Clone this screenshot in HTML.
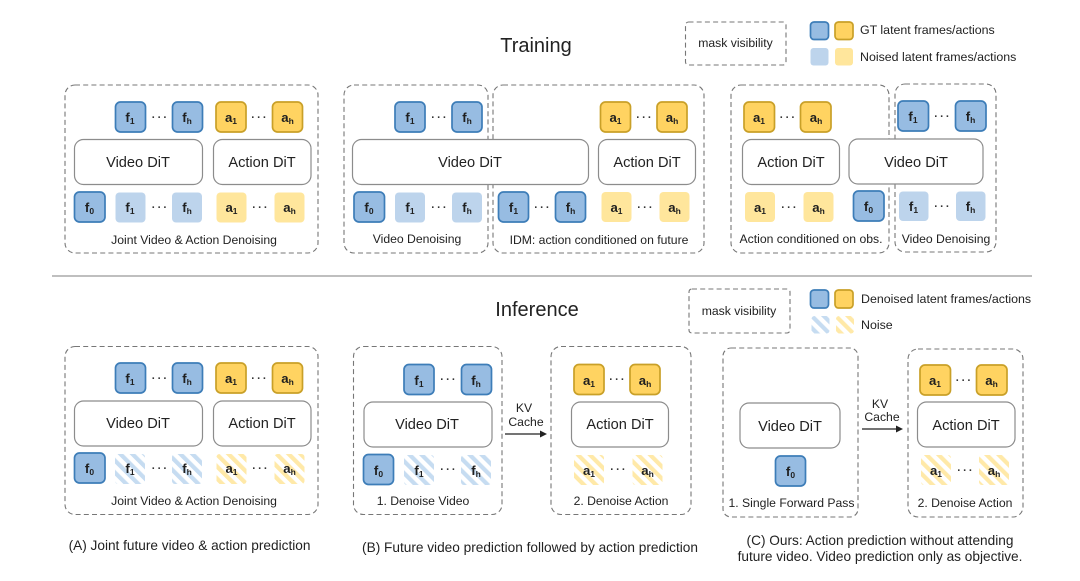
<!DOCTYPE html>
<html lang="en">
<head>
<meta charset="utf-8">
<title>Training and Inference Diagram</title>
<style>
html,body{margin:0;padding:0;background:#fff;width:1080px;height:581px;overflow:hidden}
svg{display:block;filter:blur(.3px)}
text{font-family:"Liberation Sans",sans-serif;fill:#222}
.d{fill:#fff;fill-opacity:0;stroke:#777;stroke-width:1.1;stroke-dasharray:5 3.2}
.dit{fill:#fff;stroke:#8c8c8c;stroke-width:1.2}
.gb{fill:#97bce2;stroke:#3d7db8;stroke-width:1.7}
.gy{fill:#ffd361;stroke:#c9a028;stroke-width:1.7}
.nb{fill:#bdd4ec}
.ny{fill:#ffe69c}
.hb{fill:url(#hb)}
.hy{fill:url(#hy)}
.t{font-size:13.2px;font-weight:700;text-anchor:middle;fill:#1f1f1f}
.s{font-size:8.5px}
.dt{font-size:14.6px;text-anchor:middle}
.l{font-size:12.2px;text-anchor:middle}
.lg{font-size:12.4px}
.c{font-size:13.65px;text-anchor:middle}
.h{font-size:20px;text-anchor:middle}
.o{font-size:11px;font-weight:700;text-anchor:middle;letter-spacing:2.2px;fill:#333;transform:translate(1px,1px)}
</style>
</head>
<body>
<svg width="1080" height="581" viewBox="0 0 1080 581" xmlns="http://www.w3.org/2000/svg">
<defs>
<pattern id="hb" patternUnits="userSpaceOnUse" width="8.500" height="8.500" patternTransform="rotate(-45)"><rect width="8.500" height="8.500" fill="#fff"/><rect width="4.200" height="8.500" fill="#c6dcf1"/></pattern>
<pattern id="hy" patternUnits="userSpaceOnUse" width="8.500" height="8.500" patternTransform="rotate(-45)"><rect width="8.500" height="8.500" fill="#fff"/><rect width="4.200" height="8.500" fill="#ffe9a8"/></pattern>
</defs>

<text class="h" x="536" y="52">Training</text>
<text class="h" x="537" y="316">Inference</text>
<line x1="52" y1="276" x2="1032" y2="276" stroke="#999" stroke-width="1.2"/>

<!-- Legend top -->
<rect class="d" x="685.500" y="22" width="100.500" height="43" rx="3"/>
<text class="l" x="735.500" y="47">mask visibility</text>
<rect class="gb" x="810.500" y="22" width="18" height="17.500" rx="3.500"/>
<rect class="gy" x="835" y="22" width="18" height="17.500" rx="3.500"/>
<rect class="nb" x="810.500" y="48" width="18" height="17.500" rx="3"/>
<rect class="ny" x="835" y="48" width="18" height="17.500" rx="3"/>
<text class="lg" x="860" y="34">GT latent frames/actions</text>
<text class="lg" x="860" y="61">Noised latent frames/actions</text>

<!-- Legend bottom -->
<rect class="d" x="689" y="289" width="101" height="44" rx="3"/>
<text class="l" x="739" y="315">mask visibility</text>
<rect class="gb" x="810.500" y="290" width="18" height="18" rx="3.500"/>
<rect class="gy" x="835" y="290" width="18" height="18" rx="3.500"/>
<rect class="hb" x="811.500" y="316" width="18" height="17.500" rx="3"/>
<rect class="hy" x="836" y="316" width="18" height="17.500" rx="3"/>
<text class="lg" x="861" y="303">Denoised latent frames/actions</text>
<text class="lg" x="861" y="329">Noise</text>

<!-- Training A -->
<rect class="d" x="65" y="85" width="253" height="168" rx="10"/>
<rect class="gb" x="115.500" y="102" width="30" height="30" rx="5"/><text class="t" x="130" y="122">f<tspan class="s" dy="2">1</tspan></text>
<text class="o" x="159.500" y="120">···</text>
<rect class="gb" x="172.500" y="102" width="30" height="30" rx="5"/><text class="t" x="187" y="122">f<tspan class="s" dy="2">h</tspan></text>
<rect class="gy" x="216" y="102" width="30" height="30" rx="5"/><text class="t" x="231" y="122">a<tspan class="s" dy="2">1</tspan></text>
<text class="o" x="259" y="120">···</text>
<rect class="gy" x="272.500" y="102" width="30" height="30" rx="5"/><text class="t" x="287.500" y="122">a<tspan class="s" dy="2">h</tspan></text>
<rect class="dit" x="74.500" y="139.500" width="128" height="45" rx="9"/><text class="dt" x="138" y="167">Video DiT</text>
<rect class="dit" x="213.500" y="139.500" width="97.500" height="45" rx="9"/><text class="dt" x="262" y="167">Action DiT</text>
<rect class="gb" x="74.500" y="192" width="30.500" height="30" rx="5"/><text class="t" x="89.500" y="212">f<tspan class="s" dy="2">0</tspan></text>
<rect class="nb" x="115.500" y="192.500" width="30" height="30" rx="4"/><text class="t" x="130" y="212">f<tspan class="s" dy="2">1</tspan></text>
<text class="o" x="159.500" y="210">···</text>
<rect class="nb" x="172" y="192.500" width="30" height="30" rx="4"/><text class="t" x="187" y="212">f<tspan class="s" dy="2">h</tspan></text>
<rect class="ny" x="216.500" y="192.500" width="30" height="30" rx="4"/><text class="t" x="231.500" y="212">a<tspan class="s" dy="2">1</tspan></text>
<text class="o" x="260" y="210">···</text>
<rect class="ny" x="274.500" y="192.500" width="30" height="30" rx="4"/><text class="t" x="289.500" y="212">a<tspan class="s" dy="2">h</tspan></text>
<text class="l" x="194" y="244">Joint Video &amp; Action Denoising</text>

<!-- Training B -->
<rect class="d" x="344" y="85" width="144" height="168" rx="10"/>
<rect class="d" x="493" y="85" width="211" height="168" rx="10"/>
<rect class="gb" x="395" y="102" width="30" height="30" rx="5"/><text class="t" x="410" y="122">f<tspan class="s" dy="2">1</tspan></text>
<text class="o" x="439" y="120">···</text>
<rect class="gb" x="452" y="102" width="30" height="30" rx="5"/><text class="t" x="467" y="122">f<tspan class="s" dy="2">h</tspan></text>
<rect class="gy" x="600.500" y="102" width="30" height="30" rx="5"/><text class="t" x="615.500" y="122">a<tspan class="s" dy="2">1</tspan></text>
<text class="o" x="644" y="120">···</text>
<rect class="gy" x="657" y="102" width="30" height="30" rx="5"/><text class="t" x="672" y="122">a<tspan class="s" dy="2">h</tspan></text>
<rect class="dit" x="352.500" y="139.500" width="236" height="45" rx="9"/><text class="dt" x="470" y="167">Video DiT</text>
<rect class="dit" x="598.500" y="139.500" width="97" height="45" rx="9"/><text class="dt" x="647" y="167">Action DiT</text>
<rect class="gb" x="354" y="192" width="30.500" height="30" rx="5"/><text class="t" x="369" y="212">f<tspan class="s" dy="2">0</tspan></text>
<rect class="nb" x="395" y="192.500" width="30" height="30" rx="4"/><text class="t" x="410" y="212">f<tspan class="s" dy="2">1</tspan></text>
<text class="o" x="439" y="210">···</text>
<rect class="nb" x="452" y="192.500" width="30" height="30" rx="4"/><text class="t" x="467" y="212">f<tspan class="s" dy="2">h</tspan></text>
<rect class="gb" x="498.500" y="192" width="30" height="30" rx="5"/><text class="t" x="513.500" y="212">f<tspan class="s" dy="2">1</tspan></text>
<text class="o" x="542" y="210">···</text>
<rect class="gb" x="555.500" y="192" width="30" height="30" rx="5"/><text class="t" x="570.500" y="212">f<tspan class="s" dy="2">h</tspan></text>
<rect class="ny" x="601.500" y="192" width="30" height="30" rx="4"/><text class="t" x="616.500" y="212">a<tspan class="s" dy="2">1</tspan></text>
<text class="o" x="645" y="210">···</text>
<rect class="ny" x="659.500" y="192" width="30" height="30" rx="4"/><text class="t" x="674.500" y="212">a<tspan class="s" dy="2">h</tspan></text>
<text class="l" x="417" y="243">Video Denoising</text>
<text class="l" x="599" y="244">IDM: action conditioned on future</text>

<!-- Training C -->
<rect class="d" x="731" y="85" width="158" height="168" rx="10"/>
<rect class="d" x="895" y="84" width="101" height="168" rx="10"/>
<rect class="gy" x="744" y="102" width="30.500" height="30" rx="5"/><text class="t" x="759" y="122">a<tspan class="s" dy="2">1</tspan></text>
<text class="o" x="787.500" y="120">···</text>
<rect class="gy" x="800.500" y="102" width="30.500" height="30" rx="5"/><text class="t" x="816" y="122">a<tspan class="s" dy="2">h</tspan></text>
<rect class="gb" x="898" y="101" width="30.500" height="30" rx="5"/><text class="t" x="913" y="121">f<tspan class="s" dy="2">1</tspan></text>
<text class="o" x="942" y="119">···</text>
<rect class="gb" x="955.500" y="101" width="30.500" height="30" rx="5"/><text class="t" x="970.500" y="121">f<tspan class="s" dy="2">h</tspan></text>
<rect class="dit" x="742.500" y="139.500" width="97" height="45" rx="9"/><text class="dt" x="791" y="167">Action DiT</text>
<rect class="dit" x="849" y="139" width="134" height="45" rx="9"/><text class="dt" x="916" y="167">Video DiT</text>
<rect class="ny" x="745" y="192" width="30" height="30" rx="4"/><text class="t" x="760" y="212">a<tspan class="s" dy="2">1</tspan></text>
<text class="o" x="789" y="210">···</text>
<rect class="ny" x="803.500" y="192" width="30" height="30" rx="4"/><text class="t" x="818.500" y="212">a<tspan class="s" dy="2">h</tspan></text>
<rect class="gb" x="853.500" y="191" width="30.500" height="30" rx="5"/><text class="t" x="868.500" y="211">f<tspan class="s" dy="2">0</tspan></text>
<rect class="nb" x="899" y="191.500" width="29.500" height="29.500" rx="4"/><text class="t" x="913.500" y="211">f<tspan class="s" dy="2">1</tspan></text>
<text class="o" x="942" y="209">···</text>
<rect class="nb" x="956" y="191.500" width="29.500" height="29.500" rx="4"/><text class="t" x="970.500" y="211">f<tspan class="s" dy="2">h</tspan></text>
<text class="l" x="811" y="243">Action conditioned on obs.</text>
<text class="l" x="946" y="243">Video Denoising</text>

<!-- Inference A -->
<rect class="d" x="65" y="346.500" width="253" height="168" rx="10"/>
<rect class="gb" x="115.500" y="363" width="30" height="30" rx="5"/><text class="t" x="130" y="383">f<tspan class="s" dy="2">1</tspan></text>
<text class="o" x="159.500" y="381">···</text>
<rect class="gb" x="172.500" y="363" width="30" height="30" rx="5"/><text class="t" x="187" y="383">f<tspan class="s" dy="2">h</tspan></text>
<rect class="gy" x="216" y="363" width="30" height="30" rx="5"/><text class="t" x="231" y="383">a<tspan class="s" dy="2">1</tspan></text>
<text class="o" x="259" y="381">···</text>
<rect class="gy" x="272.500" y="363" width="30" height="30" rx="5"/><text class="t" x="287.500" y="383">a<tspan class="s" dy="2">h</tspan></text>
<rect class="dit" x="74.500" y="401" width="128" height="45" rx="9"/><text class="dt" x="138" y="428">Video DiT</text>
<rect class="dit" x="213.500" y="401" width="97.500" height="45" rx="9"/><text class="dt" x="262" y="428">Action DiT</text>
<rect class="gb" x="74.500" y="453" width="30.500" height="30" rx="5"/><text class="t" x="89.500" y="473">f<tspan class="s" dy="2">0</tspan></text>
<rect class="hb" x="115" y="454" width="30" height="30" rx="3"/><text class="t" x="130" y="473">f<tspan class="s" dy="2">1</tspan></text>
<text class="o" x="159.500" y="471">···</text>
<rect class="hb" x="172" y="454" width="30" height="30" rx="3"/><text class="t" x="187" y="473">f<tspan class="s" dy="2">h</tspan></text>
<rect class="hy" x="216.500" y="454" width="30" height="30" rx="3"/><text class="t" x="231.500" y="473">a<tspan class="s" dy="2">1</tspan></text>
<text class="o" x="260" y="471">···</text>
<rect class="hy" x="274.500" y="454" width="30" height="30" rx="3"/><text class="t" x="289.500" y="473">a<tspan class="s" dy="2">h</tspan></text>
<text class="l" x="194" y="505">Joint Video &amp; Action Denoising</text>

<!-- Inference B -->
<rect class="d" x="353.500" y="346.500" width="148.500" height="168" rx="10"/>
<rect class="d" x="551" y="346.500" width="140" height="168" rx="10"/>
<rect class="gb" x="404" y="364.500" width="30" height="30" rx="5"/><text class="t" x="419" y="385">f<tspan class="s" dy="2">1</tspan></text>
<text class="o" x="448" y="382">···</text>
<rect class="gb" x="461.500" y="364.500" width="30" height="30" rx="5"/><text class="t" x="476" y="385">f<tspan class="s" dy="2">h</tspan></text>
<rect class="dit" x="364" y="402" width="128" height="45" rx="9"/><text class="dt" x="427" y="429">Video DiT</text>
<rect class="gb" x="363.500" y="454.500" width="30" height="30" rx="5"/><text class="t" x="378.500" y="475">f<tspan class="s" dy="2">0</tspan></text>
<rect class="hb" x="404" y="455" width="30" height="30" rx="3"/><text class="t" x="419" y="475">f<tspan class="s" dy="2">1</tspan></text>
<text class="o" x="448" y="472">···</text>
<rect class="hb" x="461" y="455" width="30" height="30" rx="3"/><text class="t" x="476" y="475">f<tspan class="s" dy="2">h</tspan></text>
<text class="l" x="423" y="505">1. Denoise Video</text>
<text class="l" x="524" y="412">KV</text>
<text class="l" x="526" y="426">Cache</text>
<line x1="505" y1="434" x2="541" y2="434" stroke="#222" stroke-width="1.2"/>
<polygon points="540,430.500 547,434 540,437.500" fill="#222"/>
<rect class="gy" x="574" y="364.500" width="30" height="30" rx="5"/><text class="t" x="589" y="385">a<tspan class="s" dy="2">1</tspan></text>
<text class="o" x="617" y="382">···</text>
<rect class="gy" x="630" y="364.500" width="30" height="30" rx="5"/><text class="t" x="645" y="385">a<tspan class="s" dy="2">h</tspan></text>
<rect class="dit" x="571.500" y="402" width="97" height="45" rx="9"/><text class="dt" x="620" y="429">Action DiT</text>
<rect class="hy" x="574" y="455" width="30" height="30" rx="3"/><text class="t" x="589" y="475">a<tspan class="s" dy="2">1</tspan></text>
<text class="o" x="618" y="472">···</text>
<rect class="hy" x="632.500" y="455" width="30" height="30" rx="3"/><text class="t" x="647.500" y="475">a<tspan class="s" dy="2">h</tspan></text>
<text class="l" x="621" y="505">2. Denoise Action</text>

<!-- Inference C -->
<rect class="d" x="723" y="348" width="135" height="169" rx="8"/>
<rect class="d" x="908" y="349" width="115" height="168" rx="10"/>
<rect class="dit" x="740" y="403" width="100" height="45" rx="9"/><text class="dt" x="790" y="431">Video DiT</text>
<rect class="gb" x="775.500" y="456" width="30" height="30" rx="5"/><text class="t" x="790.500" y="476">f<tspan class="s" dy="2">0</tspan></text>
<text class="l" x="791.500" y="507">1. Single Forward Pass</text>
<text class="l" x="880" y="408">KV</text>
<text class="l" x="882" y="421">Cache</text>
<line x1="862" y1="429" x2="897" y2="429" stroke="#222" stroke-width="1.2"/>
<polygon points="896,425.500 903,429 896,432.500" fill="#222"/>
<rect class="gy" x="920" y="365" width="30.500" height="30" rx="5"/><text class="t" x="935" y="385">a<tspan class="s" dy="2">1</tspan></text>
<text class="o" x="963.500" y="383">···</text>
<rect class="gy" x="976.500" y="365" width="30.500" height="30" rx="5"/><text class="t" x="991.500" y="385">a<tspan class="s" dy="2">h</tspan></text>
<rect class="dit" x="917.500" y="402" width="97.500" height="45" rx="9"/><text class="dt" x="966" y="430">Action DiT</text>
<rect class="hy" x="921" y="455" width="30" height="30" rx="3"/><text class="t" x="936" y="475">a<tspan class="s" dy="2">1</tspan></text>
<text class="o" x="965" y="473">···</text>
<rect class="hy" x="979" y="455" width="30" height="30" rx="3"/><text class="t" x="994" y="475">a<tspan class="s" dy="2">h</tspan></text>
<text class="l" x="965" y="507">2. Denoise Action</text>

<!-- Captions -->
<text class="c" x="189.500" y="550">(A) Joint future video &amp; action prediction</text>
<text class="c" x="530" y="552">(B) Future video prediction followed by action prediction</text>
<text class="c" x="880" y="545">(C) Ours: Action prediction without attending</text>
<text class="c" x="880" y="561">future video. Video prediction only as objective.</text>
</svg>
</body>
</html>
